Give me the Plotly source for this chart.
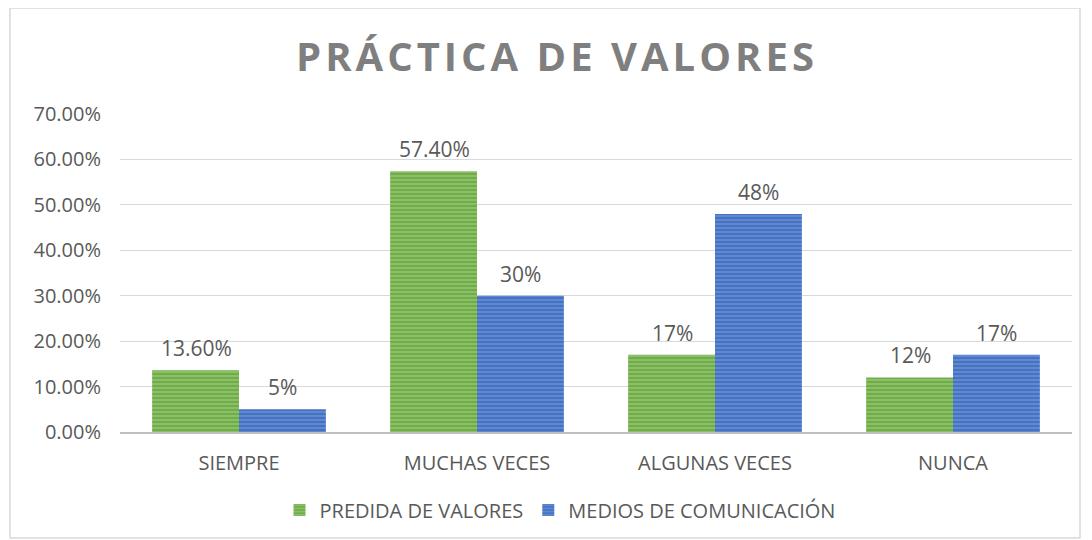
import plotly.graph_objects as go

categorias = ["SIEMPRE", "MUCHAS VECES", "ALGUNAS VECES", "NUNCA"]
perdida = [0.136, 0.574, 0.17, 0.12]
perdida_txt = ["13.60%", "57.40%", "17%", "12%"]
medios = [0.05, 0.30, 0.48, 0.17]
medios_txt = ["5%", "30%", "48%", "17%"]
titulo = "PRÁCTICA DE VALORES"

gris = "#595959"
fuente = "Open Sans"

fig = go.Figure()
fig.add_trace(go.Bar(
    x=categorias, y=perdida, name="PREDIDA DE VALORES",
    marker=dict(color="#70ad47", line=dict(width=0),
                pattern=dict(shape="-", fgcolor="#b5d99c", size=4, solidity=0.4)),
))
fig.add_trace(go.Bar(
    x=categorias, y=medios, name="MEDIOS DE COMUNICACIÓN",
    marker=dict(color="#4472c4", line=dict(width=0),
                pattern=dict(shape="-", fgcolor="#8faadc", size=4, solidity=0.4)),
))

# etiquetas de datos, algo separadas de las barras
for i, c in enumerate(categorias):
    fig.add_annotation(x=c, y=perdida[i], text=perdida_txt[i], xshift=-43, yshift=6,
                       yanchor="bottom", showarrow=False, font=dict(size=21, color=gris, family=fuente))
    fig.add_annotation(x=c, y=medios[i], text=medios_txt[i], xshift=43, yshift=6,
                       yanchor="bottom", showarrow=False, font=dict(size=21, color=gris, family=fuente))

# titulo con letras espaciadas
titulo_esp = "\u200a".join(titulo)

fig.update_layout(
    width=1092, height=540,
    paper_bgcolor="white", plot_bgcolor="white",
    margin=dict(l=112, r=28, t=106, b=116),
    barmode="group", bargap=0.27, bargroupgap=0,
    font=dict(family=fuente, color=gris, size=20),
    title=dict(text="<b>" + titulo_esp + "</b>", x=547 / 1092, xref="container", xanchor="center",
               y=1 - 49 / 540, yanchor="middle",
               font=dict(size=40, color="#7f7f7f", family=fuente)),
    legend=dict(orientation="h", x=(552 - 112) / 952, xanchor="center",
                y=(424 - 502) / 318, yanchor="middle",
                font=dict(size=20, color=gris, family=fuente), itemwidth=30),
    shapes=[dict(type="rect", xref="paper", yref="paper",
                 x0=(2 - 112) / 952, x1=(1072 - 112) / 952,
                 y0=(424 - 530) / 318, y1=(424 - 0) / 318,
                 line=dict(color="#d9d9d9", width=1.5), fillcolor="rgba(0,0,0,0)", layer="below")],
)
fig.update_yaxes(range=[0, 0.70], dtick=0.10, tickformat=".2%", showgrid=True,
                 gridcolor="#d9d9d9", zeroline=False, ticks="", tickfont=dict(size=20),
                 showline=False, ticklabelstandoff=18)
fig.update_xaxes(showline=True, linecolor="#bfbfbf", linewidth=1.5, ticks="",
                 tickfont=dict(size=20), ticklabelstandoff=12)

fig.write_html("out.html")
